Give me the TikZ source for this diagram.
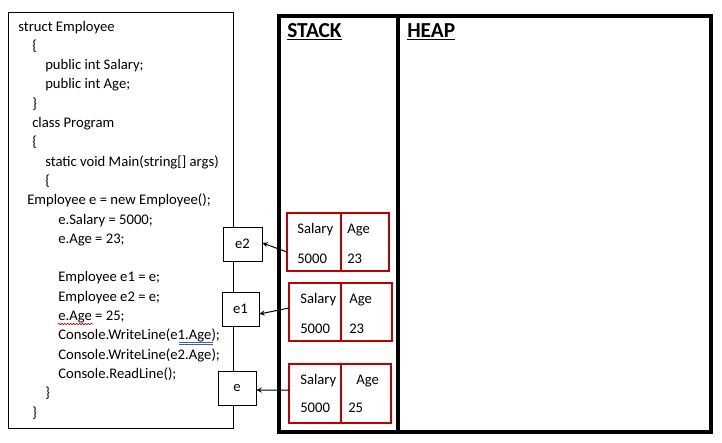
\documentclass[tikz,border=0pt]{standalone}
\usepackage{fontspec}
\setmainfont{Carlito}
\usetikzlibrary{decorations.pathmorphing}
\definecolor{slotred}{RGB}{192,0,0}
\definecolor{spellblue}{RGB}{60,90,200}
\def\u{0.75pt}
\tikzset{
  code/.style={anchor=base west,inner sep=0pt,font=\fontsize{11}{13}\selectfont},
  field/.style={anchor=base west,inner sep=0pt,font=\fontsize{11}{13}\selectfont},
  head/.style={anchor=base west,inner sep=0pt,font=\fontsize{16}{19}\selectfont\bfseries},
  box/.style={draw,line width=0.75pt,inner sep=0pt,outer sep=0pt,anchor=north west},
  frame/.style={draw,line width=2.3pt,inner sep=0pt,outer sep=0pt,anchor=north west},
  cell/.style={draw=slotred,line width=1.5pt,inner sep=0pt,outer sep=0pt,anchor=north west},
  ref/.style={draw,fill=white,line width=0.75pt,inner sep=0pt,minimum height=34*\u,font=\fontsize{11}{13}\selectfont}
}
\begin{document}
\begin{tikzpicture}[>=stealth,x=0.75pt,y=-0.75pt]
\useasboundingbox (0,0) rectangle (722,443);
% code listing
\node[box,minimum width=225*\u,minimum height=416*\u] (codebox) at (8,12) {};
\foreach \r/\xx/\txt in {0/18/struct Employee, 1/32/\{, 2/45/public int Salary;,
  3/45/public int Age;, 4/32/\}, 5/32/class Program, 6/32/\{,
  7/45/static void Main(string[] args), 8/45/\{, 9/27/Employee e = new Employee();,
  10/58/e.Salary = 5000;, 11/58/e.Age = 23;, 13/58/Employee e1 = e;,
  14/58/Employee e2 = e;, 15/58/e.Age = 25;, 16/58/Console.WriteLine(e1.Age);,
  17/58/Console.WriteLine(e2.Age);, 18/58/Console.ReadLine();, 19/45/\}, 20/32/\}}
  \node[code] (code\r) at (\xx,{31+19.3*\r}) {\txt};
% spell check marks
\draw[slotred,line width=0.5pt,decorate,decoration={snake,amplitude=0.5pt,segment length=2.2pt}] (58,324) -- (93,324);
\draw[spellblue,line width=0.5pt] (179,342.5) -- (213,342.5) (179,344.5) -- (213,344.5);
% reference boxes
\node[ref,minimum width=39*\u] (e2) at (242.5,244) {e2};
\node[ref,minimum width=37*\u] (e1) at (240.5,309) {e1};
\node[ref,minimum width=38*\u] (e) at (237,388) {e};
% stack and heap
\node[frame,minimum width=119*\u,minimum height=416*\u] (stack) at (279,16) {};
\node[frame,minimum width=313*\u,minimum height=416*\u] (heap) at (stack.north east) {};
\node[head] (stacklbl) at (287,37.5) {\underline{STACK}};
\node[head] (heaplbl) at (407,37.5) {\underline{HEAP}};
% slots on the stack
\node[cell,minimum width=54*\u,minimum height=58*\u] (s1a) at (287,213) {};
\node[cell,minimum width=48*\u,minimum height=58*\u] (s1b) at (s1a.north east) {};
\node[cell,minimum width=52*\u,minimum height=58*\u] (s2a) at (289,283) {};
\node[cell,minimum width=51*\u,minimum height=58*\u] (s2b) at (s2a.north east) {};
\node[cell,minimum width=52*\u,minimum height=59*\u] (s3a) at (289,364) {};
\node[cell,minimum width=50*\u,minimum height=59*\u] (s3b) at (s3a.north east) {};
\node[field] (sal1) at (297,233) {Salary};  \node[field] (age1) at (347,233) {Age};
\node[field] (salv1) at (297,263) {5000};   \node[field] (agev1) at (347,263) {23};
\node[field] (sal2) at (300,303) {Salary};  \node[field] (age2) at (349,303) {Age};
\node[field] (salv2) at (300,333) {5000};   \node[field] (agev2) at (349,333) {23};
\node[field] (sal3) at (300,384) {Salary};  \node[field] (age3) at (356,384) {Age};
\node[field] (salv3) at (300,412) {5000};   \node[field] (agev3) at (348,412) {25};
% pointers
\draw[->,line width=0.75pt] ([yshift=-7.5pt]s1a.west) -- ([yshift=0.75pt]e2.east);
\draw[->,line width=0.75pt] ([yshift=3pt]s2a.west) -- ([yshift=-3.75pt]e1.east);
\draw[->,line width=0.75pt] ([yshift=2.6pt]s3a.west) -- ([yshift=-1.5pt]e.east);
\end{tikzpicture}
\end{document}
